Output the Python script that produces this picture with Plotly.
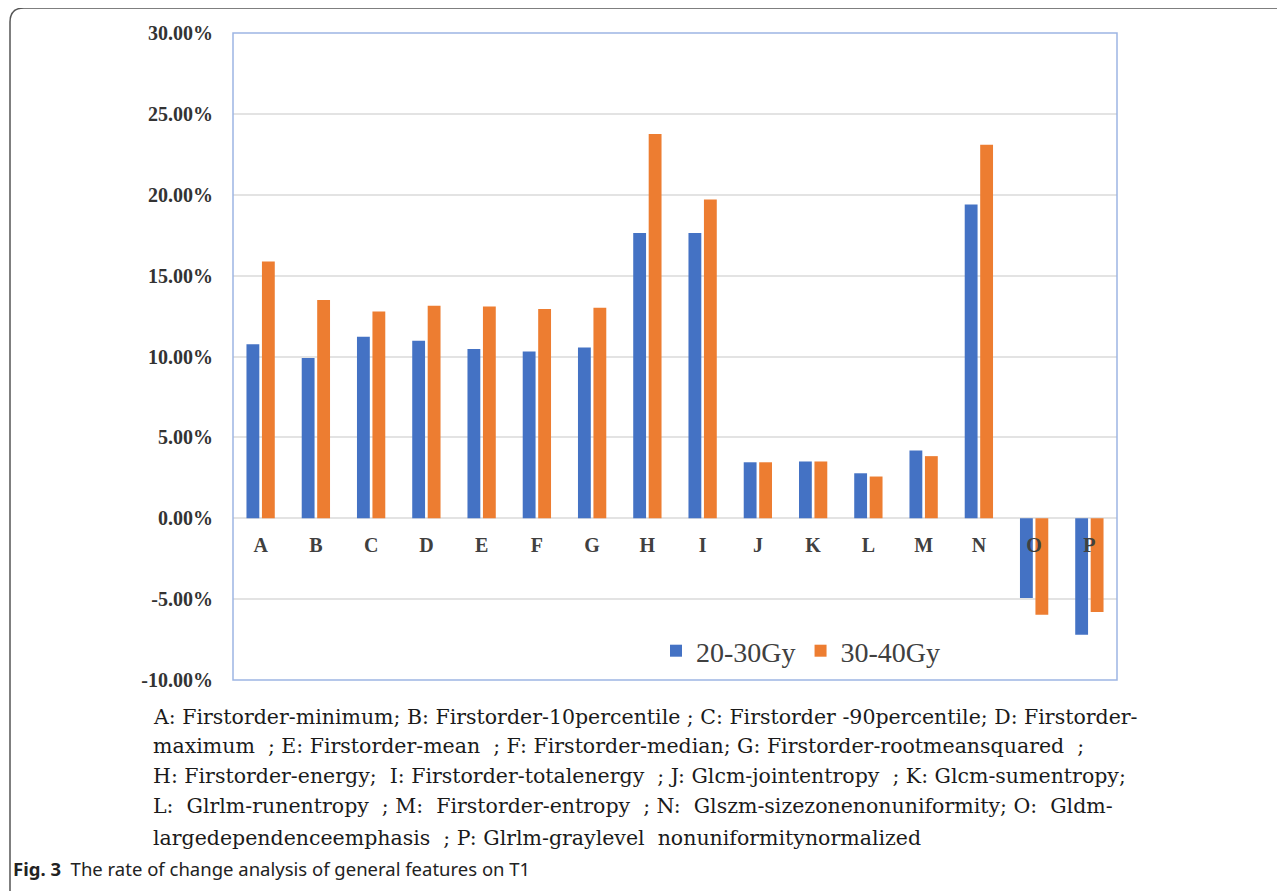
import plotly.graph_objects as go

categories = list("ABCDEFGHIJKLMNOP")
series_20_30 = [10.76, 9.90, 11.22, 10.97, 10.47, 10.31, 10.56, 17.63, 17.63,
                3.46, 3.51, 2.78, 4.19, 19.40, -4.93, -7.20]
series_30_40 = [15.88, 13.50, 12.78, 13.13, 13.09, 12.93, 13.01, 23.75, 19.71,
                3.46, 3.51, 2.58, 3.84, 23.09, -5.96, -5.80]
y_tick_vals = [-10, -5, 0, 5, 10, 15, 20, 25, 30]
y_tick_text = ["-10.00%", "-5.00%", "0.00%", "5.00%", "10.00%", "15.00%",
               "20.00%", "25.00%", "30.00%"]
legend_names = ["20-30Gy", "30-40Gy"]
caption_lines = [
    "A: Firstorder-minimum; B: Firstorder-10percentile ; C: Firstorder -90percentile; D: Firstorder-",
    "maximum  ; E: Firstorder-mean  ; F: Firstorder-median; G: Firstorder-rootmeansquared  ;",
    "H: Firstorder-energy;  I: Firstorder-totalenergy  ; J: Glcm-jointentropy  ; K: Glcm-sumentropy;",
    "L:  Glrlm-runentropy  ; M:  Firstorder-entropy  ; N:  Glszm-sizezonenonuniformity; O:  Gldm-",
    "largedependenceemphasis  ; P: Glrlm-graylevel  nonuniformitynormalized",
]
fig_label = "Fig. 3"
fig_title = "The rate of change analysis of general features on T1"

# page body has an 8px margin; work in page pixels and convert
OFF = 8
PW, PH = 1285, 891
L, R, T, B = 233, 1117, 33, 680
W, H = PW - OFF, PH - OFF


def px(x):
    return (x - L) / (R - L)


def py(y):
    return (B - y) / (B - T)


BLUE = "#4472C4"
ORANGE = "#ED7D31"
SERIF = "Liberation Serif, Times New Roman, serif"
WIDE_SERIF = "DejaVu Serif, serif"

fig = go.Figure()
fig.add_trace(go.Bar(x=categories, y=series_20_30, name=legend_names[0],
                     marker=dict(color=BLUE, line=dict(width=0))))
fig.add_trace(go.Bar(x=categories, y=series_30_40, name=legend_names[1],
                     marker=dict(color=ORANGE, line=dict(width=0))))

fig.update_layout(
    width=W, height=H,
    margin=dict(l=L - OFF, r=PW - R, t=T - OFF, b=PH - B, pad=0),
    paper_bgcolor="white", plot_bgcolor="white",
    barmode="group", bargap=0.44, bargroupgap=0.17,
    showlegend=True,
    legend=dict(orientation="h", x=px(656), y=py(651), xanchor="left", yanchor="middle",
                font=dict(family=SERIF, size=28, color="#404040"),
                bgcolor="rgba(0,0,0,0)", itemwidth=30, traceorder="normal"),
    xaxis=dict(type="category", anchor="free", position=0.25, showline=False,
               showgrid=False, ticks="", ticklabelstandoff=13,
               tickfont=dict(family=SERIF, size=20, color="#404040", weight="bold")),
    yaxis=dict(range=[-10, 30], tickvals=y_tick_vals, ticktext=y_tick_text,
               showgrid=True, gridcolor="#E3E3E3", gridwidth=1.5,
               zeroline=True, zerolinecolor="#E3E3E3", zerolinewidth=1.5,
               showline=False, ticks="", ticklabelstandoff=19,
               tickfont=dict(family=SERIF, size=20, color="#333333", weight="bold")),
)

# plot frame
fig.add_shape(type="rect", xref="paper", yref="paper", x0=0, x1=1, y0=0, y1=1,
              line=dict(color="#9DB5E3", width=1.5), layer="above")

# outer figure border (rounded top-left)
path = (f"M {px(10)},{py(900)} L {px(10)},{py(22)} "
        f"Q {px(10)},{py(8)} {px(24)},{py(8)} L {px(1300)},{py(8)}")
fig.add_shape(type="path", xref="paper", yref="paper", path=path,
              line=dict(color="#555555", width=1.5))

# caption lines
line_y = [717, 746, 776, 806, 838]
for txt, yy in zip(caption_lines, line_y):
    fig.add_annotation(xref="paper", yref="paper", x=px(151), y=py(yy),
                       text=txt, showarrow=False, xanchor="left", yanchor="middle",
                       font=dict(family=WIDE_SERIF, size=20.5, color="#1a1a1a"))

fig.add_annotation(xref="paper", yref="paper", x=px(11), y=py(868),
                   text=f"<b>{fig_label}</b>  {fig_title}", showarrow=False,
                   xanchor="left", yanchor="middle",
                   font=dict(family="Noto Sans, sans-serif", size=18.5, color="#222222"))

fig.write_html("out.html")
